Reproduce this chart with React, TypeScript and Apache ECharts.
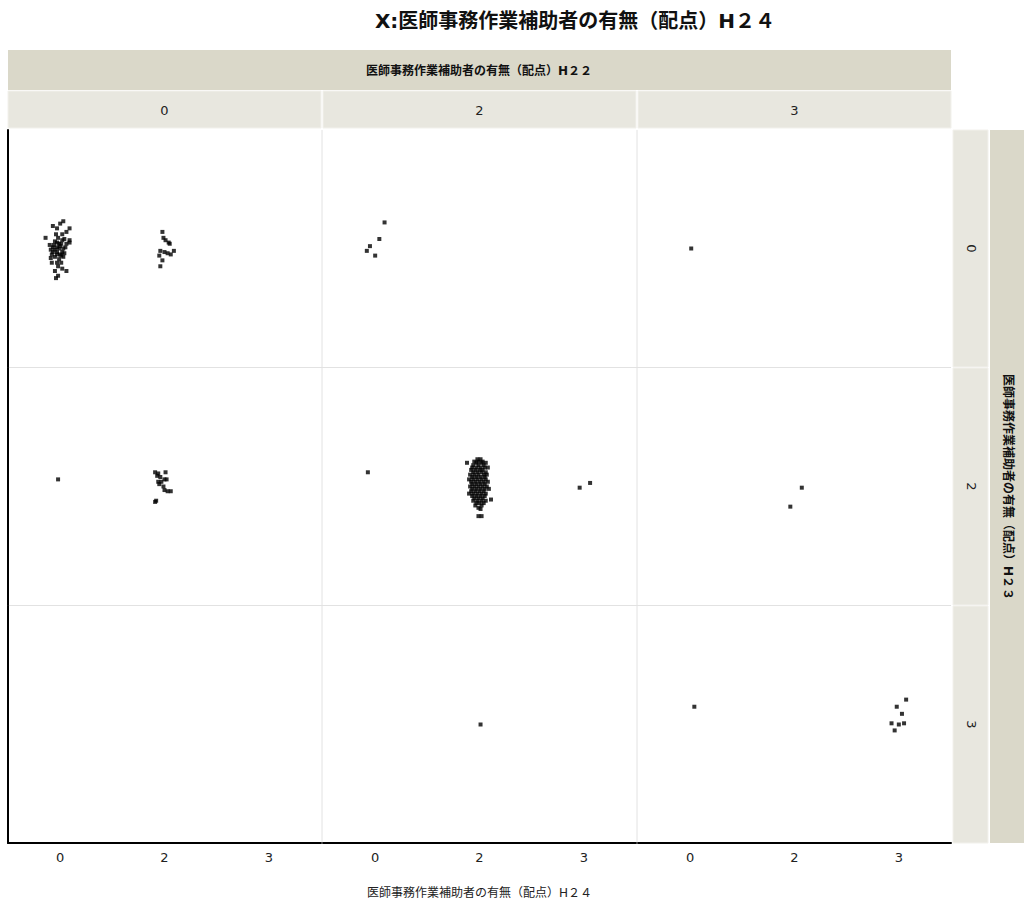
import React, { useEffect, useRef } from 'react';
import * as echarts from 'echarts';

// ---- labels ----
const xCategories = ['0', '2', '3']; // H24 (x axis)
const colCategories = ['0', '2', '3']; // H22 (facet columns)
const rowCategories = ['0', '2', '3']; // H23 (facet rows)

const titleText = 'X:医師事務作業補助者の有無（配点）H２４';
const colStripTitle = '医師事務作業補助者の有無（配点）H２２';
const rowStripTitle = '医師事務作業補助者の有無（配点）H２３';
const xAxisTitle = '医師事務作業補助者の有無（配点）H２４';

// ---- points per panel: [x position (category index + jitter), y jitter] ----
const pts_r0_c0 = [
  [0.03, 0.23], [0.0, 0.21], [-0.07, 0.19], [-0.03, 0.17], [0.09, 0.17], [0.06, 0.14], [-0.04, 0.12],
  [0.02, 0.12], [-0.14, 0.09], [0.04, 0.08], [0.09, 0.07], [0.09, 0.05], [0.06, 0.04], [-0.1, 0.03],
  [-0.06, 0.03], [-0.01, 0.04], [0.01, 0.04], [-0.09, -0.01], [-0.05, -0.01], [-0.01, 0.0], [0.03, 0.0],
  [-0.07, -0.03], [-0.03, -0.03], [0.02, -0.03], [-0.08, -0.05], [-0.03, -0.05], [0.0, -0.05], [0.04, -0.04],
  [-0.09, -0.08], [-0.05, -0.07], [0.03, -0.07], [-0.08, -0.12], [-0.03, -0.12], [0.01, -0.12], [-0.02, -0.15],
  [0.02, -0.17], [0.06, -0.19], [-0.05, -0.19], [-0.02, -0.23], [-0.04, -0.25], [-0.03, 0.01], [0.0, 0.02],
  [-0.05, 0.06], [-0.02, 0.09], [0.01, -0.06], [-0.01, -0.09], [-0.07, 0.01], [0.05, 0.01], [-0.03, 0.05],
  [0.02, 0.07],
  [0.98, 0.14], [0.99, 0.09], [1.01, 0.07], [1.04, 0.05], [1.05, 0.04], [0.96, -0.02], [1.0, -0.03],
  [1.03, -0.04], [1.09, -0.02], [1.06, -0.05], [0.95, -0.06], [0.98, -0.1], [0.96, -0.15],
];
const pts_r0_c1 = [[0.09, 0.22], [0.04, 0.08], [-0.05, 0.02], [-0.08, -0.02], [0.0, -0.06]];
const pts_r0_c2 = [[0.01, 0.0]];

const pts_r1_c0 = [
  [-0.02, 0.06],
  [0.91, 0.12], [0.94, 0.11], [1.01, 0.12], [0.93, 0.09], [0.96, 0.08], [1.0, 0.06], [1.02, 0.06],
  [0.94, 0.04], [0.97, 0.04], [0.95, 0.02], [0.99, 0.0], [1.0, -0.03], [1.03, -0.04], [1.06, -0.04],
  [0.92, -0.12], [0.91, -0.13],
];
const pts_r1_c1 = [
  [-0.07, 0.12],
  [0.98, 0.23], [1.01, 0.23],
  [0.95, 0.21], [0.99, 0.21], [1.03, 0.21],
  [0.88, 0.2], [0.97, 0.2], [1.02, 0.2], [1.06, 0.2],
  [0.94, 0.18], [0.99, 0.18], [1.04, 0.18],
  [0.93, 0.16], [0.97, 0.16], [1.01, 0.16], [1.05, 0.16], [1.08, 0.16],
  [0.92, 0.14], [0.96, 0.14], [1.0, 0.14], [1.03, 0.14],
  [0.94, 0.12], [0.98, 0.12], [1.02, 0.12], [1.06, 0.12],
  [0.91, 0.1], [0.95, 0.1], [0.99, 0.1], [1.04, 0.1], [1.07, 0.1],
  [0.93, 0.08], [0.97, 0.08], [1.01, 0.08], [1.05, 0.08],
  [0.9, 0.06], [0.94, 0.06], [0.98, 0.06], [1.02, 0.06], [1.06, 0.06],
  [0.92, 0.04], [0.96, 0.04], [1.0, 0.04], [1.04, 0.04], [1.08, 0.04],
  [0.93, 0.02], [0.97, 0.02], [1.01, 0.02], [1.05, 0.02],
  [0.91, 0.0], [0.95, 0.0], [0.99, 0.0], [1.03, 0.0], [1.07, 0.0],
  [0.93, -0.02], [0.97, -0.02], [1.01, -0.02], [1.05, -0.02], [1.09, -0.02],
  [0.92, -0.04], [0.96, -0.04], [1.0, -0.04], [1.04, -0.04],
  [0.9, -0.06], [0.94, -0.06], [0.98, -0.06], [1.02, -0.06], [1.06, -0.06],
  [0.93, -0.08], [0.97, -0.08], [1.01, -0.08], [1.05, -0.08],
  [0.95, -0.1], [0.99, -0.1], [1.03, -0.1], [1.11, -0.11],
  [0.94, -0.12], [0.98, -0.12], [1.02, -0.12], [1.06, -0.12],
  [0.97, -0.14], [1.0, -0.14], [1.04, -0.14],
  [0.96, -0.16], [1.02, -0.16],
  [0.99, -0.18], [1.01, -0.19],
  [0.99, -0.25], [1.02, -0.25],
  [1.96, -0.01], [2.06, 0.03],
];
const pts_r1_c2 = [[1.07, -0.01], [0.96, -0.17]];

const pts_r2_c0: number[][] = [];
const pts_r2_c1 = [[1.01, 0.0]];
const pts_r2_c2 = [
  [0.04, 0.15],
  [2.07, 0.21], [1.98, 0.15], [2.03, 0.09], [1.93, 0.01], [2.05, 0.01], [2.0, 0.0], [1.96, -0.05],
];

const panelPoints = [
  [pts_r0_c0, pts_r0_c1, pts_r0_c2],
  [pts_r1_c0, pts_r1_c1, pts_r1_c2],
  [pts_r2_c0, pts_r2_c1, pts_r2_c2],
];

const FONT = "'DejaVu Sans', 'Noto Sans CJK JP', sans-serif";

export default function App() {
  const ref = useRef<HTMLDivElement>(null);

  useEffect(() => {
    if (!ref.current) return;
    const chart = echarts.init(ref.current, null, { renderer: 'svg' });

    const colLeft = [8, 323, 638];
    const colW = 313;
    const rowTop = [130, 368, 606];
    const rowH = 237;

    const grids: any[] = [];
    const xAxes: any[] = [];
    const yAxes: any[] = [];
    const series: any[] = [];
    let idx = 0;
    for (let r = 0; r < 3; r++) {
      for (let c = 0; c < 3; c++) {
        grids.push({
          left: colLeft[c],
          top: rowTop[r],
          width: colW,
          height: rowH,
          show: false,
        });
        const bottom = r === 2;
        xAxes.push({
          type: 'value',
          gridIndex: idx,
          min: -0.5,
          max: 2.5,
          interval: 0.5,
          axisLine: { show: bottom, onZero: false, lineStyle: { color: '#000', width: 2 } },
          axisTick: { show: false },
          splitLine: { show: false },
          axisLabel: {
            show: bottom,
            margin: 8,
            fontSize: 13,
            color: '#222',
            fontFamily: FONT,
            formatter: (v: number) => {
              const k = Math.round(v);
              return Math.abs(v - k) < 1e-6 && k >= 0 && k < xCategories.length ? xCategories[k] : '';
            },
          },
          name: bottom && c === 1 ? xAxisTitle : '',
          nameLocation: 'middle',
          nameGap: 44,
          nameTextStyle: { fontSize: 12, color: '#222', fontFamily: FONT },
        });
        yAxes.push({
          type: 'value',
          gridIndex: idx,
          min: -1,
          max: 1,
          axisLine: { show: c === 0, onZero: false, lineStyle: { color: '#000', width: 2 } },
          axisTick: { show: false },
          axisLabel: { show: false },
          splitLine: { show: false },
        });
        series.push({
          type: 'scatter',
          xAxisIndex: idx,
          yAxisIndex: idx,
          symbol: 'rect',
          symbolSize: 4,
          itemStyle: { color: '#000' },
          data: panelPoints[r][c],
          silent: true,
        });
        idx++;
      }
    }

    const graphic: any[] = [];
    // panel separators
    for (const x of [322, 637]) {
      graphic.push({ type: 'line', shape: { x1: x, y1: 130, x2: x, y2: 842 }, style: { stroke: '#e2e2e2', lineWidth: 1 } });
    }
    for (const y of [367.5, 605.5]) {
      graphic.push({ type: 'line', shape: { x1: 9, y1: y, x2: 951, y2: y }, style: { stroke: '#e2e2e2', lineWidth: 1 } });
    }
    // title
    graphic.push({
      type: 'text',
      x: 575,
      y: 21,
      style: { text: titleText, fontSize: 20, fontWeight: 'bold', fontFamily: FONT, fill: '#111', align: 'center', verticalAlign: 'middle' },
    });
    // top outer strip
    graphic.push({ type: 'rect', shape: { x: 8, y: 50, width: 943, height: 40 }, style: { fill: '#dad8c9' } });
    graphic.push({
      type: 'text',
      x: 479,
      y: 71,
      style: { text: colStripTitle, fontSize: 12, fontWeight: 'bold', fontFamily: FONT, fill: '#111', align: 'center', verticalAlign: 'middle' },
    });
    // top inner strips
    for (let c = 0; c < 3; c++) {
      graphic.push({
        type: 'rect',
        shape: { x: colLeft[c], y: 91, width: colW, height: 37 },
        style: { fill: '#e8e7df', stroke: '#f2f1ec', lineWidth: 1 },
      });
      graphic.push({
        type: 'text',
        x: colLeft[c] + colW / 2,
        y: 110,
        style: { text: colCategories[c], fontSize: 13, fontFamily: FONT, fill: '#222', align: 'center', verticalAlign: 'middle' },
      });
    }
    // right inner strips
    for (let r = 0; r < 3; r++) {
      graphic.push({
        type: 'rect',
        shape: { x: 953, y: rowTop[r], width: 35, height: rowH },
        style: { fill: '#e8e7df', stroke: '#f2f1ec', lineWidth: 1 },
      });
      graphic.push({
        type: 'text',
        x: 971,
        y: rowTop[r] + rowH / 2,
        rotation: -Math.PI / 2,
        style: { text: rowCategories[r], fontSize: 13, fontFamily: FONT, fill: '#222', align: 'center', verticalAlign: 'middle' },
      });
    }
    // right outer strip
    graphic.push({ type: 'rect', shape: { x: 990, y: 130, width: 40, height: 713 }, style: { fill: '#dad8c9' } });
    graphic.push({
      type: 'text',
      x: 1008,
      y: 487,
      rotation: -Math.PI / 2,
      style: { text: rowStripTitle, fontSize: 12, fontWeight: 'bold', fontFamily: FONT, fill: '#111', align: 'center', verticalAlign: 'middle' },
    });

    chart.setOption({
      animation: false,
      backgroundColor: '#ffffff',
      grid: grids,
      xAxis: xAxes,
      yAxis: yAxes,
      series,
      graphic,
    });

    return () => chart.dispose();
  }, []);

  return (
    <div
      ref={ref}
      style={{ position: 'absolute', left: 0, top: 0, width: 1024, height: 907 }}
    />
  );
}
